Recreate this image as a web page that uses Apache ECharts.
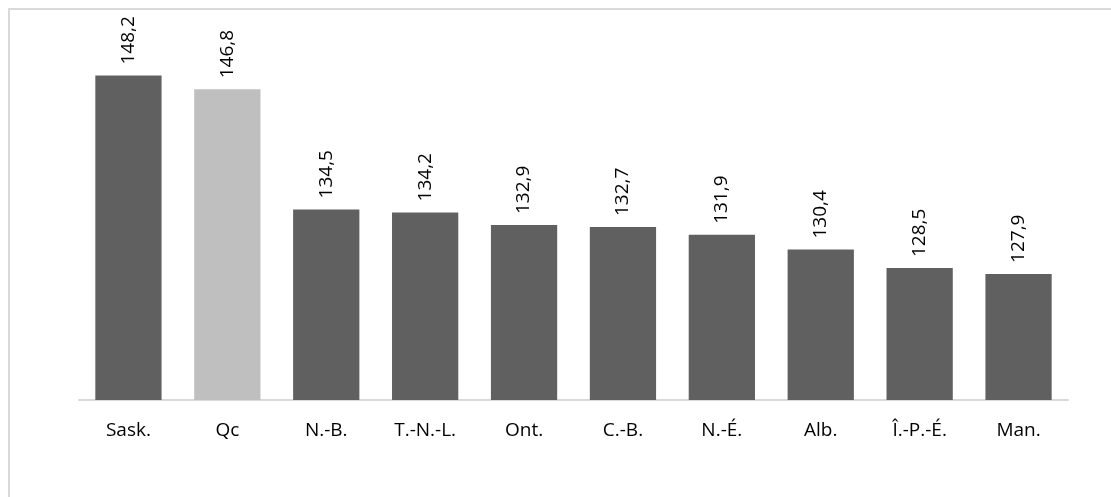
<!DOCTYPE html>
<html>
<head>
<meta charset="utf-8">
<script src="https://cdn.jsdelivr.net/npm/echarts@6/dist/echarts.min.js"></script>
<style>
  html, body { margin: 0; padding: 0; background: #fff; }
  #chart { width: 1111px; height: 497px; }
</style>
</head>
<body>
<div id="chart"></div>
<script>
const provinces = ['Sask.', 'Qc', 'N.-B.', 'T.-N.-L.', 'Ont.', 'C.-B.', 'N.-É.', 'Alb.', 'Î.-P.-É.', 'Man.'];
const values = [148.2, 146.8, 134.5, 134.2, 132.9, 132.7, 131.9, 130.4, 128.5, 127.9];
const highlight = 'Qc';

let myChart = echarts.init(document.getElementById('chart'));
myChart.setOption({
  animation: false,
  textStyle: { fontFamily: 'Open Sans' },
  graphic: [
    {
      type: 'rect',
      shape: { x: 9, y: 9, width: 1200, height: 600 },
      style: { fill: 'none', stroke: '#d9d9d9', lineWidth: 2 }
    }
  ],
  grid: {
    left: 79,
    right: 43,
    top: 58,
    bottom: 97
  },
  xAxis: {
    type: 'category',
    data: provinces,
    axisLine: { show: true, lineStyle: { color: '#d9d9d9', width: 2 } },
    axisTick: { show: false },
    axisLabel: { color: '#000', fontSize: 19, margin: 21 }
  },
  yAxis: {
    type: 'value',
    min: 115,
    max: 150,
    show: false,
    splitLine: { show: false }
  },
  series: [
    {
      type: 'bar',
      barWidth: '67%',
      data: values.map((v, i) => ({
        value: v,
        itemStyle: { color: provinces[i] === highlight ? '#bfbfbf' : '#606060' }
      })),
      label: {
        show: true,
        position: 'top',
        rotate: 90,
        align: 'left',
        verticalAlign: 'middle',
        distance: 11,
        color: '#000',
        fontSize: 19,
        formatter: p => p.value.toFixed(1).replace('.', ',')
      }
    }
  ]
});
</script>
</body>
</html>
